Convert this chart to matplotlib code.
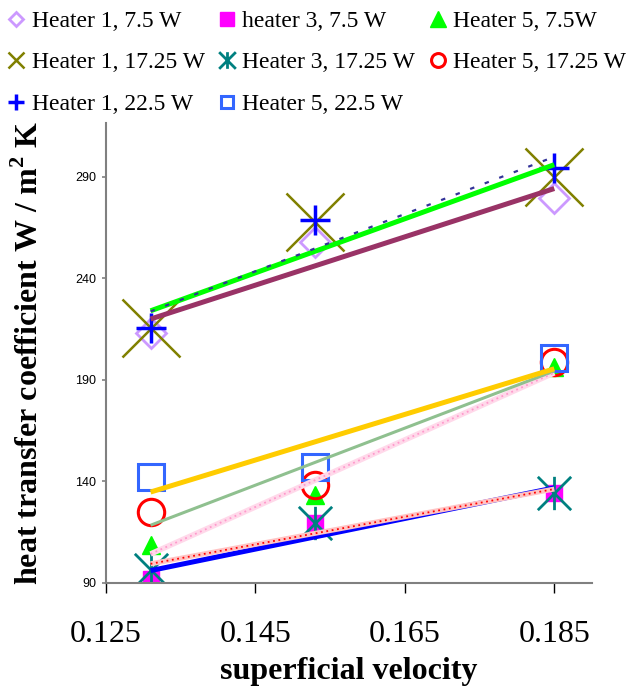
import matplotlib
matplotlib.use("Agg")
import matplotlib.pyplot as plt
import numpy as np
from matplotlib.lines import Line2D
from matplotlib.path import Path

# superficial velocity for the three runs
velocity = [0.131, 0.153, 0.185]

# heat transfer coefficient, W / m2 K
h1_75 = [212.8, 258.0, 279.3]
h3_75 = [92.0, 119.2, 134.0]
h5_75 = [108.5, 133.1, 196.4]
h1_1725 = [215.3, 267.8, 290.0]
h3_1725 = [96.2, 119.5, 134.0]
h5_1725 = [124.9, 138.1, 198.8]
h1_225 = [215.3, 268.7, 294.1]
h5_225 = [142.1, 146.8, 200.5]

labels = ["Heater 1, 7.5 W", "heater 3, 7.5 W", "Heater 5, 7.5W",
          "Heater 1, 17.25 W", "Heater 3, 17.25 W", "Heater 5, 17.25 W",
          "Heater 1, 22.5 W", "Heater 5, 22.5 W"]
series = [h1_75, h3_75, h5_75, h1_1725, h3_1725, h5_1725, h1_225, h5_225]

xticks = [0.125, 0.145, 0.165, 0.185]
yticks = [90, 140, 190, 240, 290]

asterisk = Path([(0, -1), (0, 1), (-1, -1), (1, 1), (-1, 1), (1, -1)],
                [Path.MOVETO, Path.LINETO, Path.MOVETO, Path.LINETO,
                 Path.MOVETO, Path.LINETO])

# marker, size, face, edge, edge width, legend size
marker_styles = [
    ("D", 15, "none", "#cc99ff", 2.0, 7),
    ("s", 11.5, "#ff00ff", "#ff00ff", 1.0, 10),
    ("^", 13, "#00ff00", "#00ff00", 1.0, 11),
    ("x", 42, "none", "#808000", 1.8, 11),
    (asterisk, 24, "none", "#008080", 2.0, 12),
    ("o", 19, "none", "#ff0000", 2.2, 10),
    ("+", 21, "none", "#0000ff", 2.5, 12),
    ("s", 19, "none", "#3366ff", 2.2, 9),
]

# trend line: colour, width, style, dotted overlay colour
trend_styles = [
    ("#993366", 3.6, "-", None),
    ("#0000ff", 3.6, "-", None),
    ("#ffd9ea", 4.0, "-", "#ff99cc"),
    ("#00ff00", 3.6, "-", None),
    ("#ffc4c4", 3.6, "-", "#ff0000"),
    ("#8fc08f", 2.2, "-", None),
    ("#333399", 1.6, (0, (2, 5)), None),
    ("#ffcc00", 3.6, "-", None),
]

plt.rcParams["mathtext.fontset"] = "custom"
plt.rcParams["mathtext.bf"] = "Liberation Serif:bold"
plt.rcParams["mathtext.rm"] = "Liberation Serif"

fig = plt.figure(figsize=(6.43, 6.92), dpi=100)
ax = fig.add_axes([0.1644, 0.158, 0.7558, 0.6647])

vx = np.array(velocity)
handles = []
for y, lab, ms, ts in zip(series, labels, marker_styles, trend_styles):
    m, size, fc, ec, mew, lsize = ms
    ax.plot(vx, y, linestyle="none", marker=m, markersize=size,
            markerfacecolor=fc, markeredgecolor=ec, markeredgewidth=mew,
            zorder=2)
    handles.append(Line2D([], [], linestyle="none", marker=m, markersize=lsize,
                          markerfacecolor=fc, markeredgecolor=ec,
                          markeredgewidth=mew))
    # linear trend line
    k, b = np.polyfit(vx, y, 1)
    xs = np.array([vx.min(), vx.max()])
    col, lw, ls, dots = ts
    ax.plot(xs, k * xs + b, color=col, lw=lw, linestyle=ls,
            solid_capstyle="butt", zorder=3)
    if dots:
        ax.plot(xs, k * xs + b, color=dots, lw=1.3, linestyle=(0, (1, 2)),
                zorder=3.1)

ax.set_xlim(0.125, 0.19)
ax.set_ylim(90, 316.6)
ax.set_xticks(xticks)
ax.set_xticklabels([f"{t:.3f}" for t in xticks], fontfamily="Liberation Serif",
                   fontsize=23)
ax.set_yticks(yticks)
ax.set_yticklabels([str(t) for t in yticks], fontfamily="Liberation Sans",
                   fontsize=9)

for side in ["top", "right"]:
    ax.spines[side].set_visible(False)
for side in ["left", "bottom"]:
    ax.spines[side].set_color("#808080")
    ax.spines[side].set_linewidth(1.5)
ax.tick_params(axis="x", direction="out", length=7, width=1, color="black",
               pad=20)
ax.tick_params(axis="y", direction="out", length=3, width=1.2, color="#808080",
               pad=4)

ax.set_xlabel("superficial velocity", fontfamily="Liberation Serif",
              fontweight="bold", fontsize=23, labelpad=6)
fig.text(0.045, 0.49, "heat transfer coefficient W / m$^{\\mathbf{2}}$ K",
         rotation=90, ha="center", va="center", fontfamily="Liberation Serif",
         fontweight="bold", fontsize=23)

# legend reads across rows, matplotlib fills down columns
order = [0, 3, 6, 1, 4, 7, 2, 5]
fig.legend([handles[i] for i in order], [labels[i] for i in order],
           loc="upper left", bbox_to_anchor=(0.005, 0.992),
           ncol=3, frameon=False, borderpad=0, borderaxespad=0.2,
           handlelength=0.7, handletextpad=0.3, columnspacing=0.6,
           labelspacing=0.85,
           prop={"family": "Liberation Serif", "size": 17})

fig.savefig("out.png", dpi=100)
